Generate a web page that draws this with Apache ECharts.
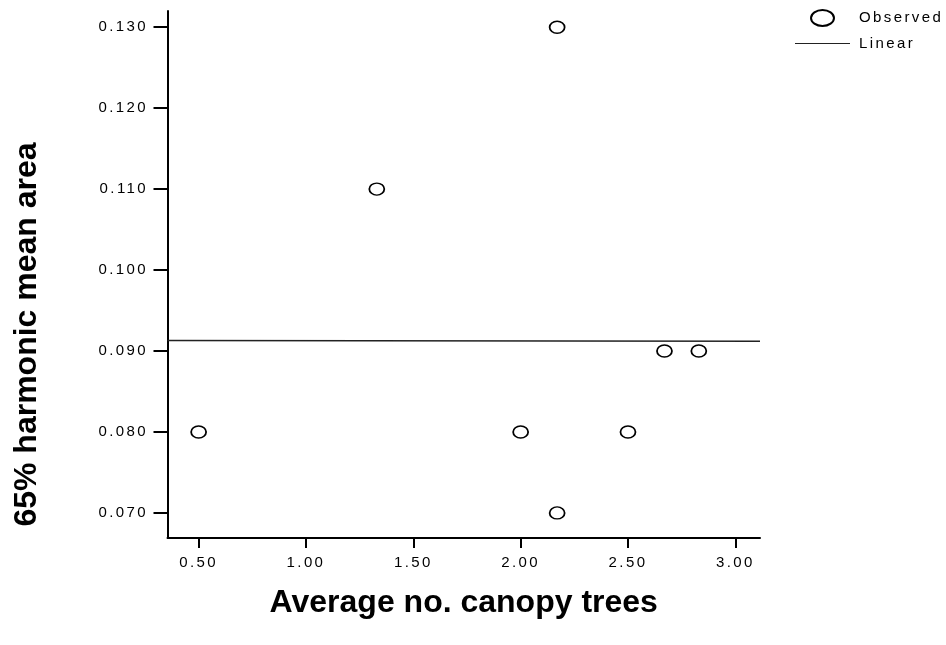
<!DOCTYPE html>
<html>
<head>
<meta charset="utf-8">
<script src="https://cdn.jsdelivr.net/npm/echarts@6/dist/echarts.min.js"></script>
<style>
html,body{margin:0;padding:0;background:#fff;}
#main{width:946px;height:645px;}
</style>
</head>
<body>
<div id="main"></div>
<script>
// Observed data
var obsX = [0.50, 1.33, 2.17, 2.00, 2.17, 2.50, 2.67, 2.83];
var obsY = [0.080, 0.110, 0.130, 0.080, 0.070, 0.080, 0.090, 0.090];
// Linear fit endpoints
var linX = [0.355, 3.115];
var linY = [0.0913, 0.0912];
// Tick labels
var xTicks = [0.5, 1.0, 1.5, 2.0, 2.5, 3.0];
var yTicks = [0.07, 0.08, 0.09, 0.10, 0.11, 0.12, 0.13];

var xTitle = 'Average no. canopy trees';
var yTitle = '65% harmonic mean area';

var FONT = '"Liberation Sans", Arial, sans-serif';

// tracked (letter-spaced) regular text, as in the original SPSS-style output
(function () {
  var P = CanvasRenderingContext2D.prototype;
  var f = P.fillText;
  P.fillText = function (t, x, y, m) {
    var prev = this.letterSpacing;
    if (!/bold/.test(this.font)) { this.letterSpacing = '2.4px'; }
    var r = (m === undefined) ? f.call(this, t, x, y) : f.call(this, t, x, y, m);
    this.letterSpacing = prev;
    return r;
  };
})();

var chart = echarts.init(document.getElementById('main'), null, {renderer: 'canvas'});
var option = {
  backgroundColor: '#fff',
  animation: false,
  grid: {left: 167.5, right: 186, top: 11, bottom: 107, containLabel: false},
  legend: {
    orient: 'vertical', left: 790, top: 4, itemWidth: 55, itemHeight: 16, itemGap: 9,
    textStyle: {fontFamily: FONT, fontSize: 15, color: '#000', padding: [0, 0, 0, 4]},
    data: [
      {name: 'Observed', icon: 'path://M0,8a11.5,8 0 1,0 23,0a11.5,8 0 1,0 -23,0'},
      {name: 'Linear', icon: 'path://M0,0H200V3H0Z'}
    ]
  },
  xAxis: {
    type: 'value', min: 0.355, max: 3.115,
    name: xTitle, nameLocation: 'middle', nameGap: 49,
    nameTextStyle: {fontFamily: FONT, fontSize: 32, fontWeight: 'bold', color: '#000'},
    axisLine: {show: true, onZero: false, lineStyle: {color: '#000', width: 2}},
    axisTick: {show: true, length: 10, customValues: xTicks, lineStyle: {color: '#000', width: 2}},
    axisLabel: {customValues: xTicks, margin: 17, fontFamily: FONT, fontSize: 15, color: '#000',
      formatter: function (v) { return v.toFixed(2); }},
    splitLine: {show: false}
  },
  yAxis: {
    type: 'value', min: 0.0669, max: 0.1320,
    name: yTitle, nameLocation: 'middle', nameGap: 124, nameRotate: 90,
    nameTextStyle: {fontFamily: FONT, fontSize: 32, fontWeight: 'bold', color: '#000', padding: [0, 120, 0, 0]},
    axisLine: {show: true, onZero: false, lineStyle: {color: '#000', width: 2}},
    axisTick: {show: true, length: 14, customValues: yTicks, lineStyle: {color: '#000', width: 2}},
    axisLabel: {customValues: yTicks, margin: 19.5, fontFamily: FONT, fontSize: 15, color: '#000',
      formatter: function (v) { return v.toFixed(3); }},
    splitLine: {show: false}
  },
  series: [
    {
      name: 'Observed', type: 'scatter', symbol: 'circle', symbolSize: [15, 12],
      itemStyle: {color: '#fff', borderColor: '#000', borderWidth: 1.6, opacity: 1},
      data: obsX.map(function (x, i) { return [x, obsY[i]]; }),
      z: 3
    },
    {
      name: 'Linear', type: 'line', symbol: 'none', showSymbol: false,
      lineStyle: {color: '#222', width: 1.6},
      itemStyle: {color: '#222'},
      data: linX.map(function (x, i) { return [x, linY[i]]; }),
      z: 2
    }
  ]
};
chart.setOption(option);
</script>
</body>
</html>
